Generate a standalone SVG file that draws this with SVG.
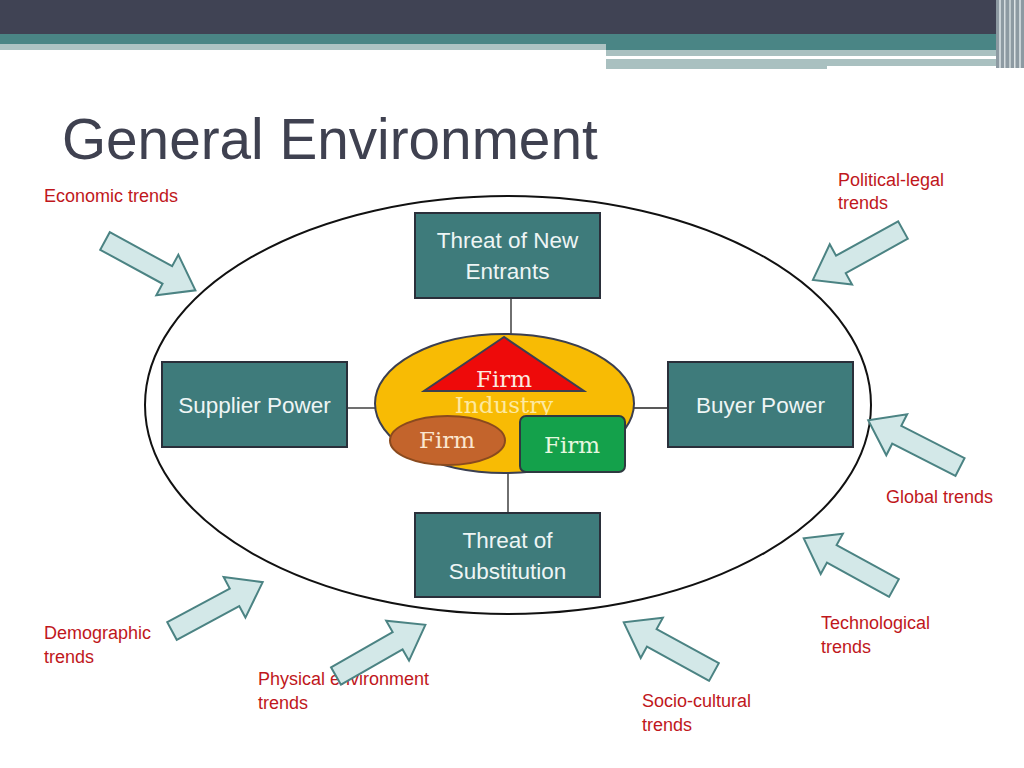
<svg xmlns="http://www.w3.org/2000/svg" xmlns:xlink="http://www.w3.org/1999/xlink" width="1024" height="768" viewBox="0 0 1024 768">
<style>
.lbl{font-family:"Liberation Sans",Arial,sans-serif;font-size:18px;fill:#c0171c}
.box{fill:#3e7b7b;stroke:#2a2f3a;stroke-width:2}
.btxt{font-family:"Liberation Sans",Arial,sans-serif;font-size:22.5px;fill:#eef5f5;text-anchor:middle}
.ser{font-family:"DejaVu Serif","Liberation Serif",serif;font-size:23px;text-anchor:middle}
.arr{fill:#d3e8e8;stroke:#4b8383;stroke-width:2;stroke-linejoin:miter}
.con{stroke:#222;stroke-width:1.3;fill:none}
</style>
<defs>
<path id="arr" d="M0,-10 H71 V-23 L103,0 L71,23 V10 H0 Z"/>
</defs>
<rect width="1024" height="768" fill="#ffffff"/>
<g id="header">
<rect x="0" y="0" width="1024" height="35" fill="#404354"/>
<rect x="0" y="34" width="606" height="10" fill="#4a8585"/>
<rect x="0" y="44" width="606" height="6" fill="#adc3c3"/>
<rect x="606" y="34" width="394" height="16" fill="#4a8585"/>
<rect x="606" y="50" width="394" height="6" fill="#a9c0c0"/>
<rect x="606" y="56" width="343" height="2" fill="#ffffff"/>
<rect x="606" y="59" width="394" height="7" fill="#a9c0c0"/>
<rect x="606" y="66" width="221" height="3" fill="#a9c0c0"/>
<rect x="996" y="0" width="28" height="68" fill="#8d9aa2"/>
<rect x="999" y="0" width="2" height="68" fill="#c9d2d6"/>
<rect x="1004" y="0" width="1.5" height="68" fill="#d5dcdf"/>
<rect x="1009" y="0" width="2" height="68" fill="#c0cacd"/>
<rect x="1014" y="0" width="1.5" height="68" fill="#dde3e5"/>
<rect x="1019" y="0" width="2" height="68" fill="#c9d2d6"/>
</g>
<text x="62" y="159" font-family="'Liberation Sans',Arial,sans-serif" font-size="56.7" fill="#3f4150">General Environment</text>
<g id="general-environment">
<ellipse cx="508" cy="405" rx="363" ry="209" fill="none" stroke="#111" stroke-width="2"/>
</g>
<g id="connectors">
<line class="con" x1="511" y1="298" x2="511" y2="336"/>
<line class="con" x1="347" y1="408" x2="376" y2="408"/>
<line class="con" x1="633" y1="408" x2="668" y2="408"/>
<line class="con" x1="508" y1="472" x2="508" y2="513"/>
</g>
<g id="threat-new">
<rect class="box" x="415" y="213" width="185" height="85"/>
<text class="btxt" x="507.5" y="248">Threat of New</text>
<text class="btxt" x="507.5" y="279">Entrants</text>
</g>
<g id="supplier">
<rect class="box" x="162" y="362" width="185" height="85"/>
<text class="btxt" x="254.5" y="413">Supplier Power</text>
</g>
<g id="buyer">
<rect class="box" x="668" y="362" width="185" height="85"/>
<text class="btxt" x="760.5" y="413">Buyer Power</text>
</g>
<g id="threat-sub">
<rect class="box" x="415" y="513" width="185" height="84"/>
<text class="btxt" x="507.5" y="548">Threat of</text>
<text class="btxt" x="507.5" y="579">Substitution</text>
</g>
<g id="industry">
<ellipse cx="504.5" cy="403.5" rx="129.5" ry="69.5" fill="#f8bb04" stroke="#3b3f50" stroke-width="2"/>
<text class="ser" x="504" y="413" fill="#fde9a0">Industry</text>
</g>
<g id="firm-triangle">
<polygon points="504,337 424,391 584,391" fill="#ee0a0a" stroke="#3b3f50" stroke-width="2"/>
<text class="ser" x="504" y="387" fill="#fbe9e0">Firm</text>
</g>
<g id="firm-ellipse">
<ellipse cx="447.5" cy="440.5" rx="57.5" ry="24.5" fill="#c3642c" stroke="#8a4a1e" stroke-width="2"/>
<text class="ser" x="447" y="448" fill="#fbe6cf">Firm</text>
</g>
<g id="firm-rect">
<rect x="520" y="416" width="105" height="56" rx="6" fill="#14a14b" stroke="#2e3a40" stroke-width="2"/>
<text class="ser" x="572" y="453" fill="#e6f7df">Firm</text>
</g>
<g id="labels">
<text class="lbl" x="44" y="202">Economic trends</text>
<text class="lbl" x="838" y="186">Political-legal</text>
<text class="lbl" x="838" y="209">trends</text>
<text class="lbl" x="886" y="503">Global trends</text>
<text class="lbl" x="821" y="629">Technological</text>
<text class="lbl" x="821" y="653">trends</text>
<text class="lbl" x="642" y="707">Socio-cultural</text>
<text class="lbl" x="642" y="731">trends</text>
<text class="lbl" x="44" y="639">Demographic</text>
<text class="lbl" x="44" y="663">trends</text>
<text class="lbl" x="258" y="685">Physical environment</text>
<text class="lbl" x="258" y="709">trends</text>
</g>
<g id="trend-arrows">
<use xlink:href="#arr" class="arr" transform="translate(105,241) rotate(28.6)"/>
<use xlink:href="#arr" class="arr" transform="translate(903,230) rotate(151)"/>
<use xlink:href="#arr" class="arr" transform="translate(960,467) rotate(207)"/>
<use xlink:href="#arr" class="arr" transform="translate(894,588) rotate(208.8)"/>
<use xlink:href="#arr" class="arr" transform="translate(714,672) rotate(208.8)"/>
<use xlink:href="#arr" class="arr" transform="translate(172,631) rotate(-28.3)"/>
<use xlink:href="#arr" class="arr" transform="translate(336,676) rotate(-29.8)"/>
</g>
</svg>
